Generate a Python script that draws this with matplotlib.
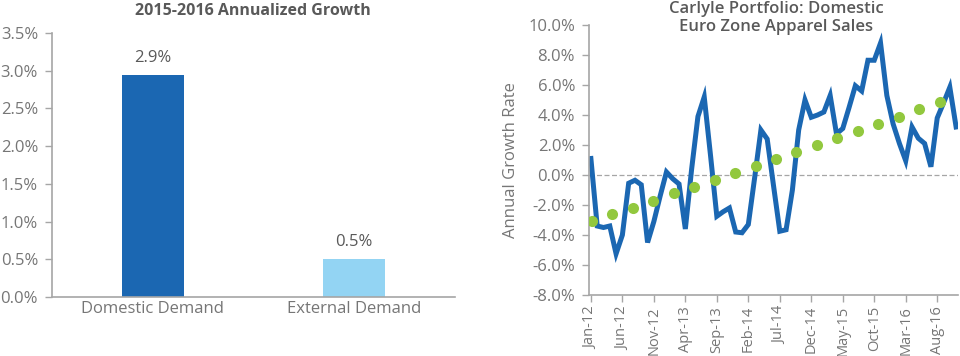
import matplotlib
matplotlib.use("Agg")
import matplotlib.pyplot as plt
from matplotlib.ticker import FuncFormatter

plt.rcParams['font.family'] = ['Open Sans', 'DejaVu Sans']

# Left panel data
bar_labels = ["Domestic Demand", "External Demand"]
bar_values = [2.94, 0.50]
bar_text = ["2.9%", "0.5%"]

# Right panel data: monthly sales growth, Jan-12 .. Nov-16 (%)
sales_growth = [
    1.1, -3.4, -3.5, -3.4, -5.25, -4.0, -0.55, -0.35, -0.65, -4.5,
    -3.1, -1.4, 0.2, -0.25, -0.6, -3.6, 0.4, 3.9, 5.2, 1.3,
    -2.75, -2.45, -2.2, -3.8, -3.85, -3.3, -0.2, 3.0, 2.4, -0.7,
    -3.75, -3.65, -1.0, 3.0, 5.0, 3.85, 4.0, 4.2, 5.3, 2.75,
    3.1, 4.5, 5.95, 5.6, 7.65, 7.65, 8.8, 5.3, 3.4, 2.1,
    0.95, 3.2, 2.45, 2.1, 0.55, 3.8, 4.8, 5.85, 3.2,
]
# quarterly trend dots
trend_values = [-3.05, -2.62, -2.17, -1.7, -1.22, -0.77, -0.3, 0.15, 0.63,
                1.05, 1.55, 2.02, 2.5, 2.95, 3.42, 3.9, 4.37, 4.85]
month_ticks = ["Jan-12", "Jun-12", "Nov-12", "Apr-13", "Sep-13", "Feb-14",
               "Jul-14", "Dec-14", "May-15", "Oct-15", "Mar-16", "Aug-16"]

DARK_BLUE = "#1b67b2"
LIGHT_BLUE = "#93d4f3"
GREEN = "#92c83e"
AXIS_GRAY = "#a6a6a6"
TICK_GRAY = "#767676"
TITLE_GRAY = "#595959"

fig = plt.figure(figsize=(9.6, 3.56), dpi=100)

# ---------------- left: bar chart ----------------
ax1 = fig.add_axes([52 / 960, 1 - 297 / 356, (455 - 52) / 960, (297 - 33) / 356])
x = list(range(len(bar_values)))
ax1.bar(x, bar_values, width=0.31, color=[DARK_BLUE, LIGHT_BLUE], zorder=2)
for xi, v, t in zip(x, bar_values, bar_text):
    ax1.text(xi, v + 0.12, t, ha='center', va='bottom', fontsize=12, color=TITLE_GRAY)
ax1.set_xlim(-0.5, 1.5)
ax1.set_ylim(0, 3.5)
ax1.set_yticks([i * 0.5 for i in range(8)])
ax1.yaxis.set_major_formatter(FuncFormatter(lambda v, p: f"{v:.1f}%"))
ax1.set_xticks(x)
ax1.set_xticklabels(bar_labels)
ax1.tick_params(axis='x', length=0, pad=3, labelsize=12, labelcolor=TICK_GRAY)
ax1.tick_params(axis='y', length=5, width=1, color=AXIS_GRAY, pad=5,
                labelsize=12, labelcolor=TICK_GRAY)
for s in ['top', 'right']:
    ax1.spines[s].set_visible(False)
for s in ['left', 'bottom']:
    ax1.spines[s].set_color(AXIS_GRAY)
    ax1.spines[s].set_linewidth(1.2)
fig.text(253 / 960, 1 - 11 / 356, "2015-2016 Annualized Growth", ha='center', va='center',
         fontsize=11.5, fontweight='bold', color=TITLE_GRAY)

# ---------------- right: line chart ----------------
ax2 = fig.add_axes([589 / 960, 1 - 295 / 356, (958 - 589) / 960, (295 - 25) / 356])
months = list(range(len(sales_growth)))
ax2.axhline(0, color=AXIS_GRAY, lw=0.9, ls=(0, (4, 2)), zorder=1)
ax2.plot(months, sales_growth, color=DARK_BLUE, lw=3.6, solid_joinstyle='miter', zorder=2)
trend_x = [0.15 + 3.25 * q for q in range(len(trend_values))]
ax2.plot(trend_x, trend_values, ls='none', marker='o', ms=8, color=GREEN,
         markeredgewidth=0, zorder=3)
ax2.set_xlim(-0.3, 58.3)
ax2.set_ylim(-8, 10)
ax2.set_yticks(range(-8, 11, 2))
ax2.yaxis.set_major_formatter(FuncFormatter(lambda v, p: f"{v:.1f}%"))
ax2.set_xticks(range(0, 5 * len(month_ticks), 5))
ax2.set_xticklabels(month_ticks, rotation=90)
ax2.tick_params(axis='x', length=5, width=1, color=AXIS_GRAY, pad=3,
                labelsize=10.5, labelcolor=TICK_GRAY)
ax2.tick_params(axis='y', length=5, width=1, color=AXIS_GRAY, pad=5,
                labelsize=12, labelcolor=TICK_GRAY)
ax2.set_ylabel("Annual Growth Rate", fontsize=12, color=TICK_GRAY, labelpad=7)
for s in ['top', 'right']:
    ax2.spines[s].set_visible(False)
for s in ['left', 'bottom']:
    ax2.spines[s].set_color(AXIS_GRAY)
    ax2.spines[s].set_linewidth(1.2)
fig.text(776 / 960, 1 - 18 / 356, "Carlyle Portfolio: Domestic\nEuro Zone Apparel Sales",
         ha='center', va='center', fontsize=12, fontweight='semibold', color=TITLE_GRAY,
         linespacing=1.2)

fig.savefig("out.png", dpi=100)
